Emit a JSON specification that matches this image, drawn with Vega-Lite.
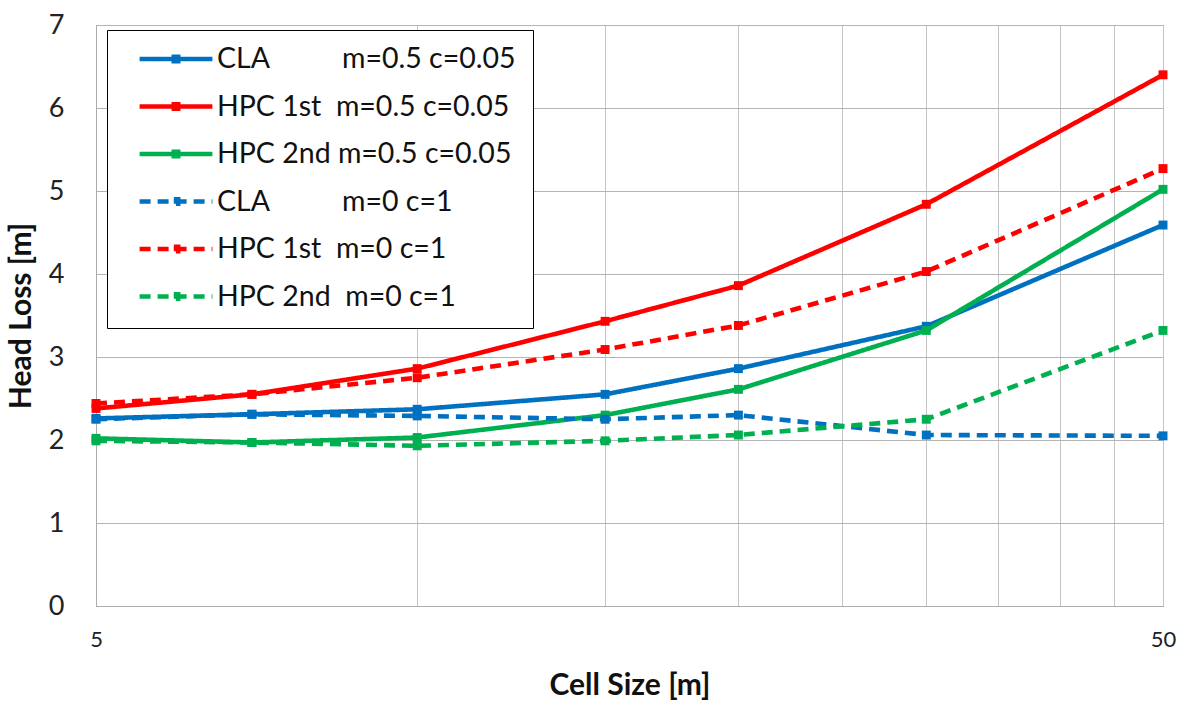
{
  "$schema": "https://vega.github.io/schema/vega-lite/v6.json",
  "width": 1067,
  "height": 581,
  "autosize": {"type": "none"},
  "padding": {"left": 96, "top": 25, "right": 28, "bottom": 99},
  "config": {
    "font": "Lato",
    "view": {"stroke": "#ABABAB", "strokeWidth": 1},
    "background": "white"
  },
  "datasets": {
    "d": [
      {"cell": 5, "loss": 2.26, "series": "CLA\u00a0\u00a0\u00a0\u00a0\u00a0\u00a0\u00a0\u00a0\u00a0\u00a0m=0.5 c=0.05"},
      {"cell": 7, "loss": 2.31, "series": "CLA\u00a0\u00a0\u00a0\u00a0\u00a0\u00a0\u00a0\u00a0\u00a0\u00a0m=0.5 c=0.05"},
      {"cell": 10, "loss": 2.37, "series": "CLA\u00a0\u00a0\u00a0\u00a0\u00a0\u00a0\u00a0\u00a0\u00a0\u00a0m=0.5 c=0.05"},
      {"cell": 15, "loss": 2.55, "series": "CLA\u00a0\u00a0\u00a0\u00a0\u00a0\u00a0\u00a0\u00a0\u00a0\u00a0m=0.5 c=0.05"},
      {"cell": 20, "loss": 2.86, "series": "CLA\u00a0\u00a0\u00a0\u00a0\u00a0\u00a0\u00a0\u00a0\u00a0\u00a0m=0.5 c=0.05"},
      {"cell": 30, "loss": 3.37, "series": "CLA\u00a0\u00a0\u00a0\u00a0\u00a0\u00a0\u00a0\u00a0\u00a0\u00a0m=0.5 c=0.05"},
      {"cell": 50, "loss": 4.59, "series": "CLA\u00a0\u00a0\u00a0\u00a0\u00a0\u00a0\u00a0\u00a0\u00a0\u00a0m=0.5 c=0.05"},
      {"cell": 5, "loss": 2.38, "series": "HPC 1st\u00a0\u00a0m=0.5 c=0.05"},
      {"cell": 7, "loss": 2.55, "series": "HPC 1st\u00a0\u00a0m=0.5 c=0.05"},
      {"cell": 10, "loss": 2.86, "series": "HPC 1st\u00a0\u00a0m=0.5 c=0.05"},
      {"cell": 15, "loss": 3.43, "series": "HPC 1st\u00a0\u00a0m=0.5 c=0.05"},
      {"cell": 20, "loss": 3.86, "series": "HPC 1st\u00a0\u00a0m=0.5 c=0.05"},
      {"cell": 30, "loss": 4.84, "series": "HPC 1st\u00a0\u00a0m=0.5 c=0.05"},
      {"cell": 50, "loss": 6.40, "series": "HPC 1st\u00a0\u00a0m=0.5 c=0.05"},
      {"cell": 5, "loss": 2.02, "series": "HPC 2nd m=0.5 c=0.05"},
      {"cell": 7, "loss": 1.97, "series": "HPC 2nd m=0.5 c=0.05"},
      {"cell": 10, "loss": 2.03, "series": "HPC 2nd m=0.5 c=0.05"},
      {"cell": 15, "loss": 2.30, "series": "HPC 2nd m=0.5 c=0.05"},
      {"cell": 20, "loss": 2.61, "series": "HPC 2nd m=0.5 c=0.05"},
      {"cell": 30, "loss": 3.32, "series": "HPC 2nd m=0.5 c=0.05"},
      {"cell": 50, "loss": 5.02, "series": "HPC 2nd m=0.5 c=0.05"},
      {"cell": 5, "loss": 2.25, "series": "CLA\u00a0\u00a0\u00a0\u00a0\u00a0\u00a0\u00a0\u00a0\u00a0\u00a0m=0 c=1"},
      {"cell": 7, "loss": 2.31, "series": "CLA\u00a0\u00a0\u00a0\u00a0\u00a0\u00a0\u00a0\u00a0\u00a0\u00a0m=0 c=1"},
      {"cell": 10, "loss": 2.29, "series": "CLA\u00a0\u00a0\u00a0\u00a0\u00a0\u00a0\u00a0\u00a0\u00a0\u00a0m=0 c=1"},
      {"cell": 15, "loss": 2.25, "series": "CLA\u00a0\u00a0\u00a0\u00a0\u00a0\u00a0\u00a0\u00a0\u00a0\u00a0m=0 c=1"},
      {"cell": 20, "loss": 2.30, "series": "CLA\u00a0\u00a0\u00a0\u00a0\u00a0\u00a0\u00a0\u00a0\u00a0\u00a0m=0 c=1"},
      {"cell": 30, "loss": 2.06, "series": "CLA\u00a0\u00a0\u00a0\u00a0\u00a0\u00a0\u00a0\u00a0\u00a0\u00a0m=0 c=1"},
      {"cell": 50, "loss": 2.05, "series": "CLA\u00a0\u00a0\u00a0\u00a0\u00a0\u00a0\u00a0\u00a0\u00a0\u00a0m=0 c=1"},
      {"cell": 5, "loss": 2.44, "series": "HPC 1st\u00a0\u00a0m=0 c=1"},
      {"cell": 7, "loss": 2.55, "series": "HPC 1st\u00a0\u00a0m=0 c=1"},
      {"cell": 10, "loss": 2.75, "series": "HPC 1st\u00a0\u00a0m=0 c=1"},
      {"cell": 15, "loss": 3.09, "series": "HPC 1st\u00a0\u00a0m=0 c=1"},
      {"cell": 20, "loss": 3.38, "series": "HPC 1st\u00a0\u00a0m=0 c=1"},
      {"cell": 30, "loss": 4.03, "series": "HPC 1st\u00a0\u00a0m=0 c=1"},
      {"cell": 50, "loss": 5.27, "series": "HPC 1st\u00a0\u00a0m=0 c=1"},
      {"cell": 5, "loss": 1.99, "series": "HPC 2nd\u00a0\u00a0m=0 c=1"},
      {"cell": 7, "loss": 1.97, "series": "HPC 2nd\u00a0\u00a0m=0 c=1"},
      {"cell": 10, "loss": 1.93, "series": "HPC 2nd\u00a0\u00a0m=0 c=1"},
      {"cell": 15, "loss": 1.99, "series": "HPC 2nd\u00a0\u00a0m=0 c=1"},
      {"cell": 20, "loss": 2.06, "series": "HPC 2nd\u00a0\u00a0m=0 c=1"},
      {"cell": 30, "loss": 2.25, "series": "HPC 2nd\u00a0\u00a0m=0 c=1"},
      {"cell": 50, "loss": 3.32, "series": "HPC 2nd\u00a0\u00a0m=0 c=1"}
    ]
  },
  "data": {"name": "d"},
  "encoding": {
    "x": {
      "field": "cell", "type": "quantitative",
      "scale": {"type": "log", "domain": [5, 50], "nice": false},
      "axis": {
        "values": [5, 10, 15, 20, 25, 30, 35, 40, 45, 50],
        "labelExpr": "datum.value == 5 || datum.value == 50 ? datum.label : ''",
        "labelFontSize": 22, "labelColor": "#222222", "labelPadding": 23,
        "ticks": false, "domainColor": "#ABABAB", "gridColor": "#C4C4C4", "grid": true,
        "title": "Cell Size [m]", "titleFontSize": 30, "titleFontWeight": "bold",
        "titleColor": "#111111", "titlePadding": 20, "labelFlush": false
      }
    },
    "y": {
      "field": "loss", "type": "quantitative",
      "scale": {"domain": [0, 7], "nice": false},
      "axis": {
        "values": [0, 1, 2, 3, 4, 5, 6, 7],
        "labelFontSize": 27, "labelColor": "#222222", "labelPadding": 32,
        "ticks": false, "domainColor": "#ABABAB", "gridColor": "#B4B4B4",
        "title": "Head Loss [m]", "titleFontSize": 30, "titleFontWeight": "bold",
        "titleColor": "#111111", "titlePadding": 12
      }
    },
    "color": {
      "field": "series", "type": "nominal",
      "scale": {
        "domain": [
          "CLA\u00a0\u00a0\u00a0\u00a0\u00a0\u00a0\u00a0\u00a0\u00a0\u00a0m=0.5 c=0.05",
          "HPC 1st\u00a0\u00a0m=0.5 c=0.05",
          "HPC 2nd m=0.5 c=0.05",
          "CLA\u00a0\u00a0\u00a0\u00a0\u00a0\u00a0\u00a0\u00a0\u00a0\u00a0m=0 c=1",
          "HPC 1st\u00a0\u00a0m=0 c=1",
          "HPC 2nd\u00a0\u00a0m=0 c=1"
        ],
        "range": ["#0070C0", "#FF0000", "#00B050", "#0070C0", "#FF0000", "#00B050"]
      },
      "legend": {
        "title": null, "orient": "none", "legendX": 11, "legendY": 5,
        "symbolType": "M-1,0H1M-0.06,-0.06H0.06V0.06H-0.06Z",
        "symbolSize": 5300, "symbolOffset": 13, "clipHeight": 24,
        "labelFontSize": 28.5, "labelColor": "#111111", "labelOffset": 2, "labelLimit": 600,
        "rowPadding": 18.5, "padding": 17,
        "strokeColor": "#000000", "fillColor": "#FFFFFF",
        "encode": {"symbols": {"update": {"fill": {"scale": "color", "field": "value"}}}}
      }
    },
    "strokeDash": {
      "field": "series", "type": "nominal",
      "scale": {
        "domain": [
          "CLA\u00a0\u00a0\u00a0\u00a0\u00a0\u00a0\u00a0\u00a0\u00a0\u00a0m=0.5 c=0.05",
          "HPC 1st\u00a0\u00a0m=0.5 c=0.05",
          "HPC 2nd m=0.5 c=0.05",
          "CLA\u00a0\u00a0\u00a0\u00a0\u00a0\u00a0\u00a0\u00a0\u00a0\u00a0m=0 c=1",
          "HPC 1st\u00a0\u00a0m=0 c=1",
          "HPC 2nd\u00a0\u00a0m=0 c=1"
        ],
        "range": [[1, 0], [1, 0], [1, 0], [11, 7], [11, 7], [11, 7]]
      }
    },
    "strokeWidth": {
      "field": "series", "type": "nominal",
      "scale": {
        "domain": [
          "CLA\u00a0\u00a0\u00a0\u00a0\u00a0\u00a0\u00a0\u00a0\u00a0\u00a0m=0.5 c=0.05",
          "HPC 1st\u00a0\u00a0m=0.5 c=0.05",
          "HPC 2nd m=0.5 c=0.05",
          "CLA\u00a0\u00a0\u00a0\u00a0\u00a0\u00a0\u00a0\u00a0\u00a0\u00a0m=0 c=1",
          "HPC 1st\u00a0\u00a0m=0 c=1",
          "HPC 2nd\u00a0\u00a0m=0 c=1"
        ],
        "range": [4.6, 4.6, 4.6, 2.6, 2.6, 2.6]
      }
    }
  },
  "layer": [
    {"mark": {"type": "line"}},
    {"mark": {"type": "point", "shape": "square", "filled": true, "opacity": 1, "size": 80}}
  ]
}
